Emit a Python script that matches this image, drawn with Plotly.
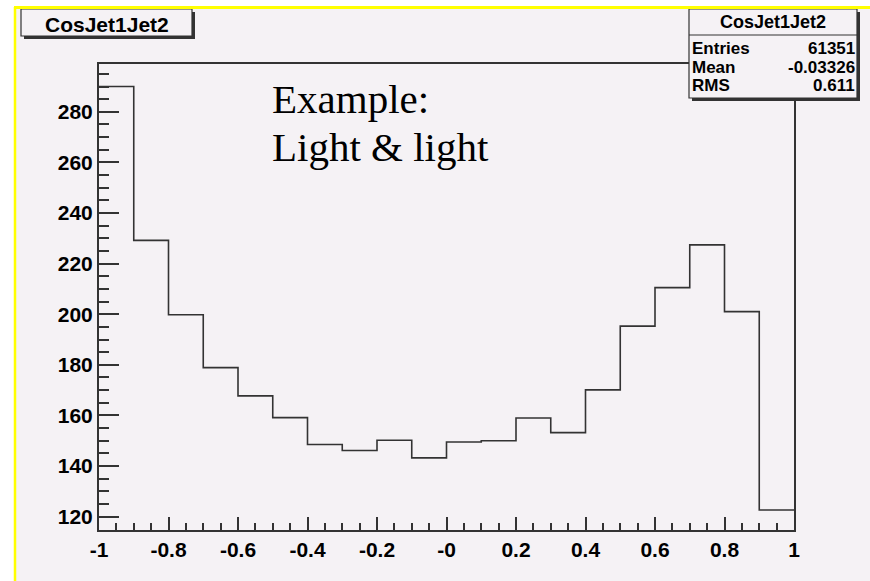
import plotly.graph_objects as go

# CosJet1Jet2 histogram: 20 bins over [-1, 1]
bin_edges = [-1.0, -0.9, -0.8, -0.7, -0.6, -0.5, -0.4, -0.3, -0.2, -0.1, 0.0,
             0.1, 0.2, 0.3, 0.4, 0.5, 0.6, 0.7, 0.8, 0.9, 1.0]
bin_contents = [290.0, 229.2, 199.8, 178.9, 167.7, 159.1, 148.5, 146.1, 150.2, 143.2,
                149.5, 150.0, 159.0, 153.2, 170.1, 195.3, 210.5, 227.4, 201.0, 122.6]

x_tick_vals = [-1.0, -0.8, -0.6, -0.4, -0.2, 0.0, 0.2, 0.4, 0.6, 0.8, 1.0]
x_tick_text = ["-1", "-0.8", "-0.6", "-0.4", "-0.2", "-0", "0.2", "0.4", "0.6", "0.8", "1"]

hist_title = "CosJet1Jet2"
stat_names = ["Entries", "Mean", "RMS"]
stat_values = ["61351", "-0.03326", "0.611"]

W, H = 870, 581
FL, FR, FT, FB = 99, 794, 64, 530   # frame edges in pixels
BG = "#F5F2F5"
INK = "#333333"
BOLD = dict(family="Liberation Sans, Arial, sans-serif", color="black", weight="bold")


def px(x):
    return (x - FL) / (FR - FL)


def py(y):
    return (FB - y) / (FB - FT)


fig = go.Figure()
fig.add_trace(go.Scatter(
    x=bin_edges,
    y=bin_contents + [bin_contents[-1]],
    mode="lines",
    line=dict(shape="hv", color=INK, width=1.6),
    hoverinfo="skip",
    showlegend=False,
))

shapes = []
# canvas background with yellow top/left border
shapes.append(dict(type="rect", xref="paper", yref="paper", layer="below",
                   x0=px(15), x1=px(W + 5), y0=py(7), y1=py(H + 5),
                   fillcolor=BG, line=dict(width=0)))
shapes.append(dict(type="line", xref="paper", yref="paper",
                   x0=px(15), x1=px(15), y0=py(7), y1=py(H + 5),
                   line=dict(color="#FFFF00", width=2.5)))


def pave(x0, y0, x1, y1):
    # box with a dark drop shadow on the right and bottom
    out = []
    out.append(dict(type="rect", xref="paper", yref="paper",
                    x0=px(x0 + 3), x1=px(x1 + 3), y0=py(y0 + 3), y1=py(y1 + 3),
                    fillcolor=INK, line=dict(width=0)))
    out.append(dict(type="rect", xref="paper", yref="paper",
                    x0=px(x0), x1=px(x1), y0=py(y0), y1=py(y1),
                    fillcolor=BG, line=dict(color=INK, width=1.2)))
    return out


shapes += pave(21, 9, 192, 36)
shapes += pave(689, 9, 857, 98)
shapes.append(dict(type="line", xref="paper", yref="paper",
                   x0=px(689), x1=px(857), y0=py(35), y1=py(35),
                   line=dict(color=INK, width=1.2)))
# top border drawn last so it covers the box tops
shapes.append(dict(type="rect", xref="paper", yref="paper",
                   x0=px(13), x1=px(W + 5), y0=py(-5), y1=py(6),
                   fillcolor="white", line=dict(width=0)))
shapes.append(dict(type="line", xref="paper", yref="paper",
                   x0=px(14), x1=px(W + 5), y0=py(7.5), y1=py(7.5),
                   line=dict(color="#FFFF00", width=3)))

annotations = []
annotations.append(dict(xref="paper", yref="paper", x=px(107), y=py(25),
                        text=hist_title, showarrow=False, xanchor="center", yanchor="middle",
                        font=dict(size=21, **BOLD)))
annotations.append(dict(xref="paper", yref="paper", x=px(773), y=py(22),
                        text=hist_title, showarrow=False, xanchor="center", yanchor="middle",
                        font=dict(size=18, **BOLD)))
row_y = [49, 67, 86]
for name, val, yy in zip(stat_names, stat_values, row_y):
    annotations.append(dict(xref="paper", yref="paper", x=px(690), y=py(yy),
                            text=name, showarrow=False, xanchor="left", yanchor="middle",
                            font=dict(size=17, **BOLD)))
    annotations.append(dict(xref="paper", yref="paper", x=px(857), y=py(yy),
                            text=val, showarrow=False, xanchor="right", yanchor="middle",
                            font=dict(size=17, **BOLD)))

serif = dict(family="Liberation Serif, Times New Roman, serif", size=41, color="black")
annotations.append(dict(xref="paper", yref="paper", x=px(270), y=py(99),
                        text="Example:", showarrow=False, xanchor="left", yanchor="middle",
                        font=serif))
annotations.append(dict(xref="paper", yref="paper", x=px(270), y=py(147),
                        text="Light &amp; light", showarrow=False, xanchor="left", yanchor="middle",
                        font=serif))

fig.update_layout(
    width=W, height=H,
    margin=dict(l=FL, r=W - FR, t=FT, b=H - FB),
    paper_bgcolor="white",
    plot_bgcolor=BG,
    shapes=shapes,
    annotations=annotations,
    showlegend=False,
)
fig.update_xaxes(
    range=[-1, 1],
    tickvals=x_tick_vals, ticktext=x_tick_text,
    ticks="inside", ticklen=13, tickwidth=1.5, tickcolor=INK,
    minor=dict(ticks="inside", ticklen=7, dtick=0.05, tick0=-1, tickwidth=1.5, tickcolor=INK),
    showline=True, linecolor=INK, linewidth=2, mirror=True,
    showgrid=False, zeroline=False,
    tickfont=dict(size=21, **BOLD),
)
fig.update_yaxes(
    range=[114.7, 298.9],
    dtick=20, tick0=0,
    ticks="inside", ticklen=20, tickwidth=1.5, tickcolor=INK,
    minor=dict(ticks="inside", ticklen=10, dtick=5, tick0=0, tickwidth=1.5, tickcolor=INK),
    showline=True, linecolor=INK, linewidth=2, mirror=True,
    showgrid=False, zeroline=False,
    tickfont=dict(size=21, **BOLD),
)

fig.write_html("out.html")
